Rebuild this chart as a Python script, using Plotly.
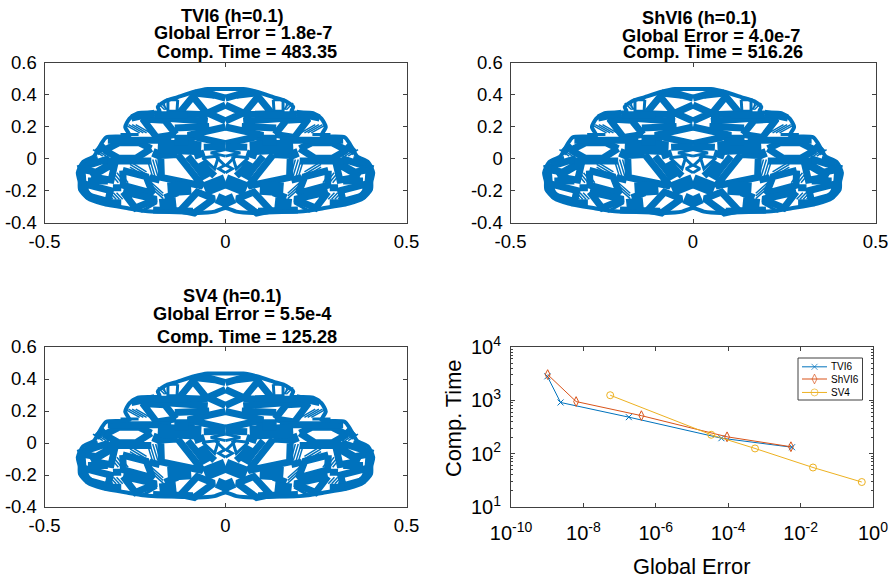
import plotly.graph_objects as go

BLUE = "#0072BD"
INK = "#404040"

# right half of the orbit's strands; the left half is its mirror image
outline_x = [0, .049, .086, .132, .168, .187, .182, .242, .265, .277, .265, .329, .343, .363, .394, .408, .403,
             .402, .381, .341, .27, .205, .141, .076, .03, 0]
outline_y = [.434, .434, .417, .384, .357, .322, .293, .284, .249, .197, .143, .133, .093, .015, -.023, -.089, -.145,
             -.193, -.247, -.282, -.311, -.332, -.332, -.34, -.332, -.309]
fine_x = [.209, .195, None, .201, .187, None, .193, .18, None, .216, .202, None,
          .264, .218, None, .264, .218, None, .264, .218, None, .264, .218, None,
          .31, .287, None, .30, .278, None, .291, .269, None, .319, .296, None,
          .328, .311, None, .319, .302, None, .31, .293, None, .301, .284, None,
          .213, .172, None, .213, .172, None, .213, .172, None,
          .278, .237, None, .268, .227, None, .258, .218, None, .248, .208, None,
          .366, .339, None, .357, .33, None, .348, .321, None,
          .187, .168, None, .178, .16, None, .17, .165]
fine_y = [-.006, -.11, None, -.006, -.11, None, -.006, -.11, None, -.006, -.11, None,
          -.02, -.083, None, -.037, -.1, None, -.054, -.116, None, -.071, -.133, None,
          -.089, -.151, None, -.089, -.151, None, -.089, -.151, None, -.089, -.151, None,
          -.214, -.255, None, -.214, -.255, None, -.214, -.255, None, -.214, -.255, None,
          -.134, -.217, None, -.151, -.234, None, -.168, -.251, None,
          .212, .16, None, .212, .16, None, .212, .16, None, .212, .16, None,
          .056, .015, None, .056, .015, None, .056, .015, None,
          .347, .305, None, .347, .305, None, .347, .305]
narrow_x = [.132, .159, .159, .134, .132, None,
            .259, .19, .231, .259, None,
            0, .041, 0, None, .03, 0, None,
            .019, .063, .03, .019, None,
            0, .019, 0, None, .196, .251, None, .24, .29]
narrow_y = [.367, .367, .295, .295, .367, None,
            -.301, -.276, -.328, -.301, None,
            .056, .035, .015, None, .019, -.048, None,
            .015, .004, -.064, .015, None,
            -.039, -.064, -.089, None, .274, .264, None, .15, .15]
band_x = [0, .058, None, 0, .049, 0, None, 0, .104, 0, None,
          .049, .09, .129, .049, None,
          .137, .168, .229, .19, .137, None,
          .205, .238, .295, .334, .295, .247, .205, None,
          .132, .179, .177, .063, .132, None,
          .284, .282, .201, .219, .284, None,
          .408, .329, .32, .357, .408, None,
          .371, .305, .316, .371, None,
          .396, .318, .325, .38, .396, None,
          .283, .191, .249, .283, None,
          .124, .078, .032, .086, .124, None,
          .058, .03, None, .104, .067, None, .049, .173, None, .045, .14, None,
          .15, .325, None, .205, .325, None,
          .03, .086, None, .104, .196, None, .085, .13, None, .058, .086, None,
          0, .06, None, .132, .168, None, .182, .21, None, .288, .311, None, .288, .334, None,
          .398, .396, None, .325, .38, None, .352, .389, None, .334, .357, None, .196, .26, None, .187, .196, None,
          .397, .395, .392, .37, .33, None, .2, .14, .09]
band_y = [.378, .413, None, .334, .284, .234, None, .197, .145, .093, None,
          .274, .388, .28, .274, None,
          .151, .239, .247, .131, .151, None,
          .062, .098, .098, .052, .002, .002, .062, None,
          .025, .019, -.118, -.172, .025, None,
          -.075, -.168, -.218, -.114, -.075, None,
          -.064, -.006, -.037, -.085, -.064, None,
          -.114, -.027, -.135, -.114, None,
          -.156, -.201, -.268, -.234, -.156, None,
          -.208, -.255, -.309, -.208, None,
          -.322, -.21, -.251, -.34, -.322, None,
          -.048, -.11, None, .014, -.089, None, .232, .253, None, .2, .19, None,
          .114, .114, None, -.015, -.015, None,
          .395, .41, None, .274, .274, None, .108, .108, None, .035, .014, None,
          .075, .07, None, -.214, -.245, None, -.135, -.12, None, -.183, -.183, None, -.276, -.276, None,
          -.089, -.151, None, -.141, -.141, None, -.006, -.027, None, .087, .035, None, .284, .253, None, .056, .004, None,
          -.06, -.13, -.2, -.245, -.272, None, -.322, -.325, -.33]
broad_x = [.067, .187, None, 0, .058, None, 0, .012, None, .122, .122, None, .072, .049, None, .095, .16, None, .136, .182]
broad_y = [.064, .077, None, -.141, -.193, None, -.234, -.296, None, .149, .08, None, -.027, -.12, None, -.183, -.193, None, -.286, -.297]

# efficiency plot
tvi_err = [1.01e-9, 2.34e-9, 1.8e-7, 6.5e-5, 5.8e-3]
tvi_time = [2818, 912, 483.35, 195, 132]
shvi_err = [1.03e-9, 6.3e-9, 4.0e-7, 9.3e-5, 5.4e-3]
shvi_time = [3040, 948, 516.26, 207, 135]
sv_err = [5.5e-8, 3.4e-5, 5.5e-4, 2.2e-2, 0.49]
sv_time = [1247, 226, 125.28, 55, 29.4]

titles = [
    ("TVI6 (h=0.1)", 232.5, 16), ("Global Error = 1.8e-7", 243, 33), ("Comp. Time = 483.35", 247, 52),
    ("ShVI6 (h=0.1)", 699, 18), ("Global Error = 4.0e-7", 711, 36), ("Comp. Time = 516.26", 713, 52),
    ("SV4 (h=0.1)", 232, 296), ("Global Error = 5.5e-4", 243, 314), ("Comp. Time = 125.28", 247, 337),
]
orbit_ticks_x = [-.5, 0, .5]
orbit_ticks_y = [-.4, -.2, 0, .2, .4, .6]
err_ticks = [1e-10, 1e-8, 1e-6, 1e-4, 1e-2, 1]
err_labels = ["10<sup>-10</sup>", "10<sup>-8</sup>", "10<sup>-6</sup>", "10<sup>-4</sup>", "10<sup>-2</sup>", "10<sup>0</sup>"]
time_ticks = [10, 100, 1000, 10000]
time_labels = ["10<sup>1</sup>", "10<sup>2</sup>", "10<sup>3</sup>", "10<sup>4</sup>"]
legend_names = ["TVI6", "ShVI6", "SV4"]
legend_rows = [.79, .5, .18]

W, H = 893, 578
fig = go.Figure()


def mirrored(vals):
    return [None if v is None else -v for v in vals]


for i in (1, 2, 3):
    ax = "" if i == 1 else str(i)
    for xs, ys, w in ((fine_x, fine_y, 1.5), (narrow_x, narrow_y, 3), (band_x, band_y, 7), (broad_x, broad_y, 14)):
        fig.add_trace(go.Scatter(
            x=xs + [None] + mirrored(xs), y=ys + [None] + ys, mode="lines", showlegend=False,
            line=dict(color=BLUE, width=w), xaxis="x" + ax, yaxis="y" + ax, hoverinfo="skip"))
    fig.add_trace(go.Scatter(
        x=mirrored(outline_x)[::-1] + outline_x[1:], y=outline_y[::-1] + outline_y[1:], mode="lines", showlegend=False,
        line=dict(color=BLUE, width=4, shape="spline", smoothing=.7), xaxis="x" + ax, yaxis="y" + ax, hoverinfo="skip"))

styles = (("x-thin-open", "#0072BD", 6), ("diamond-tall-open", "#D95319", 7), ("circle-open", "#EDB120", 7))
for name, xs, ys, (sym, col, sz) in zip(legend_names, (tvi_err, shvi_err, sv_err), (tvi_time, shvi_time, sv_time), styles):
    fig.add_trace(go.Scatter(x=xs, y=ys, name=name, mode="lines+markers", xaxis="x4", yaxis="y4", showlegend=False,
                             line=dict(color=col, width=1),
                             marker=dict(symbol=sym, size=sz, color=col, line=dict(color=col, width=1))))
# legend keys
for row, (sym, col, sz) in zip(legend_rows, styles):
    fig.add_trace(go.Scatter(x=[0, .5, 1], y=[row] * 3, mode="lines+markers", xaxis="x5", yaxis="y5", showlegend=False,
                             line=dict(color=col, width=1), hoverinfo="skip",
                             marker=dict(symbol=sym, size=[0, sz, 0], color=col, line=dict(color=col, width=1))))

base = dict(showgrid=False, zeroline=False, showline=True, linecolor=INK, linewidth=1, mirror="ticks", automargin=False,
            ticks="inside", ticklen=4, tickcolor=INK, tickfont=dict(size=18.5, color="black"))


def dom(x0, x1, y0, y1):
    return [x0 / W, x1 / W], [1 - y1 / H, 1 - y0 / H]


boxes = [(44.5, 406.5, 62.5, 222.5), (510.5, 875.5, 62.5, 222.5), (44.5, 406.5, 347, 507)]
layout = {}
for i, b in enumerate(boxes, 1):
    dx, dy = dom(*b)
    s = "" if i == 1 else str(i)
    layout["xaxis" + s] = dict(base, domain=dx, range=[-.5, .5], tickvals=orbit_ticks_x, ticklabelstandoff=2,
                               ticktext=["-0.5", "0", "0.5"], anchor="y" + s)
    layout["yaxis" + s] = dict(base, domain=dy, range=[-.4, .6], tickvals=orbit_ticks_y, ticklabelstandoff=3,
                               ticktext=["-0.4", "-0.2", "0", "0.2", "0.4", "0.6"], anchor="x" + s)
dx, dy = dom(511, 873, 347, 507)
logfont = dict(size=20, color="black")
layout["xaxis4"] = dict(base, domain=dx, type="log", range=[-10, 0], tickvals=err_ticks, ticktext=err_labels, anchor="y4",
                        tickfont=logfont, ticklabelstandoff=8)
layout["yaxis4"] = dict(base, domain=dy, type="log", range=[1, 4], tickvals=time_ticks, ticktext=time_labels, anchor="x4",
                        tickfont=logfont, ticklabelstandoff=5,
                        minor=dict(ticks="inside", ticklen=2, tickcolor=INK, dtick="D1"))
dx, dy = dom(802, 827, 358, 400)
layout["xaxis5"] = dict(domain=dx, range=[0, 1], visible=False, anchor="y5")
layout["yaxis5"] = dict(domain=dy, range=[0, 1], visible=False, anchor="x5")


def text(t, x, y, size, **kw):
    return dict(text=t, x=x / W, y=1 - y / H, xref="paper", yref="paper", showarrow=False,
                font=dict(size=size, color="black", family="Liberation Sans"),
                **{"xanchor": "center", "yanchor": "middle", **kw})


ann = [text(f"<b>{a}</b>", b, c, 18.2) for a, b, c in titles]
ann.append(text("Global Error", 692, 566, 21.8))
ann.append(text("Comp. Time", 453, 418, 21.8, textangle=-90))
ann += [text(n, 829, 358 + 42 * (1 - r), 10, xanchor="left") for n, r in zip(legend_names, legend_rows)]

fig.update_layout(width=W, height=H, margin=dict(l=0, r=0, t=0, b=0), plot_bgcolor="white", paper_bgcolor="white",
                  font=dict(family="Liberation Sans", color="black"), annotations=ann, showlegend=False,
                  shapes=[dict(type="rect", xref="paper", yref="paper", x0=798 / W, x1=862.5 / W,
                               y0=1 - 400 / H, y1=1 - 358 / H, line=dict(color=INK, width=1), fillcolor="rgba(0,0,0,0)")],
                  **layout)
fig.write_html("out.html", config={"displayModeBar": False},
               post_script="document.body.style.margin='0';document.body.style.overflow='hidden';")
